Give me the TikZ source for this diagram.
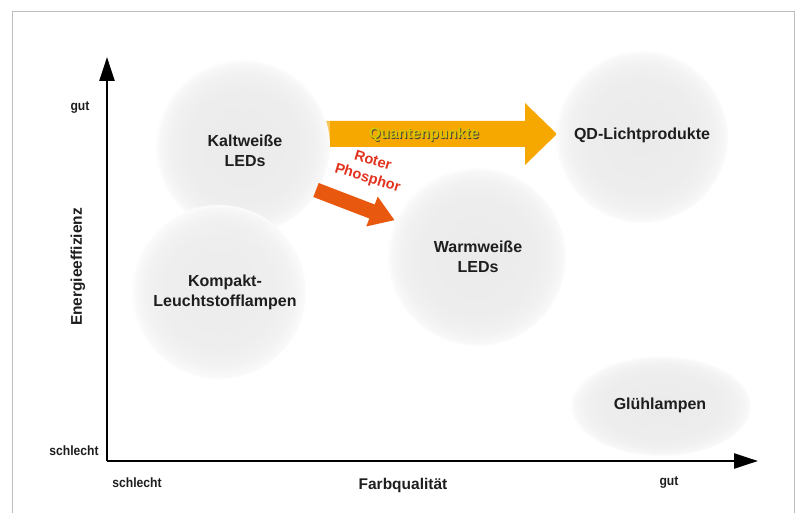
\documentclass[tikz,border=0pt]{standalone}
\usepackage{fontspec}
\setmainfont{Liberation Sans}
\newfontfamily\narrowsans[FakeStretch=0.9]{Liberation Sans}
\usetikzlibrary{arrows.meta}
\definecolor{txt}{HTML}{1E1E1E}
\definecolor{qdorange}{HTML}{F6A800}
\definecolor{qdlight}{HTML}{F9C75C}
\definecolor{redarrow}{HTML}{E8590F}
\definecolor{redtxt}{HTML}{E2321E}
\definecolor{qtxt}{HTML}{D8C400}
\definecolor{framegray}{HTML}{BDBDBD}
\pgfdeclareradialshading{orb}{\pgfpoint{0bp}{0bp}}{%
  color(0bp)=(black!8); color(16bp)=(black!7); color(21bp)=(black!5.5);
  color(24bp)=(black!3); color(25bp)=(black!1); color(26bp)=(white); color(50bp)=(white)}
\tikzset{
  orbshape/.style={shading=orb},
  lbl/.style={font=\bfseries\fontsize{16}{20}\selectfont, text=txt, align=center},
  axlbl/.style={font=\bfseries\narrowsans\fontsize{13.5}{15}\selectfont, text=txt},
  axtitle/.style={font=\bfseries\fontsize{15.5}{18}\selectfont, text=txt},
  axisline/.style={line width=2.4pt, black, -{Triangle[length=24pt,width=15pt]}}
}
\begin{document}
\begin{tikzpicture}[x=1pt,y=-1pt]
\useasboundingbox (0,0) rectangle (798,513);
% frame
\draw[framegray, line width=1pt] (12,525) -- (12,12) -- (794,12) -- (794,525);

% yellow arrow (behind circles)
\fill[qdorange] (325,121) -- (525,121) -- (525,103) -- (557,134) -- (525,165) -- (525,147) -- (325,147) -- cycle;
\fill[qdlight] (325,121) rectangle (330,147);

% circles
\shade[orbshape] (243,147) circle[radius=87];
\shade[orbshape, opacity=0.92] (219,292) circle[radius=87];
\shade[orbshape] (477,257) circle[radius=89];
\shade[orbshape] (642,137) circle[radius=86];
\shade[orbshape] (661,406) ellipse[x radius=90, y radius=50];

% red arrow
\begin{scope}[shift={(316,190)}, rotate=-21]
  \fill[redarrow] (0,-7.5) -- (60,-7.5) -- (60,-16) -- (84,0) -- (60,16) -- (60,7.5) -- (0,7.5) -- cycle;
\end{scope}

% labels inside circles
\node[lbl] (kalt) at (245,151) {Kaltweiße\\LEDs};
\node[lbl] (kompakt) at (225,292) {Kompakt-\\Leuchtstofflampen};
\node[lbl] (warm) at (478,257) {Warmweiße\\LEDs};
\node[lbl] (qd) at (642,135) {QD-Lichtprodukte};
\node[lbl] (gluh) at (660,405) {Glühlampen};

% arrow labels
\node[font=\bfseries\fontsize{15}{17}\selectfont] (quant) at (424,135)
  {\makebox[0pt][l]{\hspace{0.9pt}\raisebox{-0.9pt}{\color{black!75}Quantenpunkte}}{\color{qtxt}Quantenpunkte}};
\node[font=\bfseries\fontsize{14.5}{18}\selectfont, text=redtxt, align=center, rotate=-17] (roter) at (370,170) {Roter\\Phosphor};

% axes
\coordinate (origin) at (107,461);
\coordinate (ytip) at (107,57);
\coordinate (xtip) at (758,461);
\draw[axisline] (origin) -- (ytip);
\draw[axisline] (origin) -- (xtip);

% axis labels
\node[axlbl] (ygut) at (80,108) {gut};
\node[axlbl] (yschlecht) at (74,451) {schlecht};
\node[axlbl] (xschlecht) at (137,483) {schlecht};
\node[axlbl] (xgut) at (669,483) {gut};
\node[axtitle] (xtitle) at (403,485) {Farbqualität};
\node[axtitle, rotate=90] (ytitle) at (78,267) {Energieeffizienz};
\end{tikzpicture}
\end{document}
